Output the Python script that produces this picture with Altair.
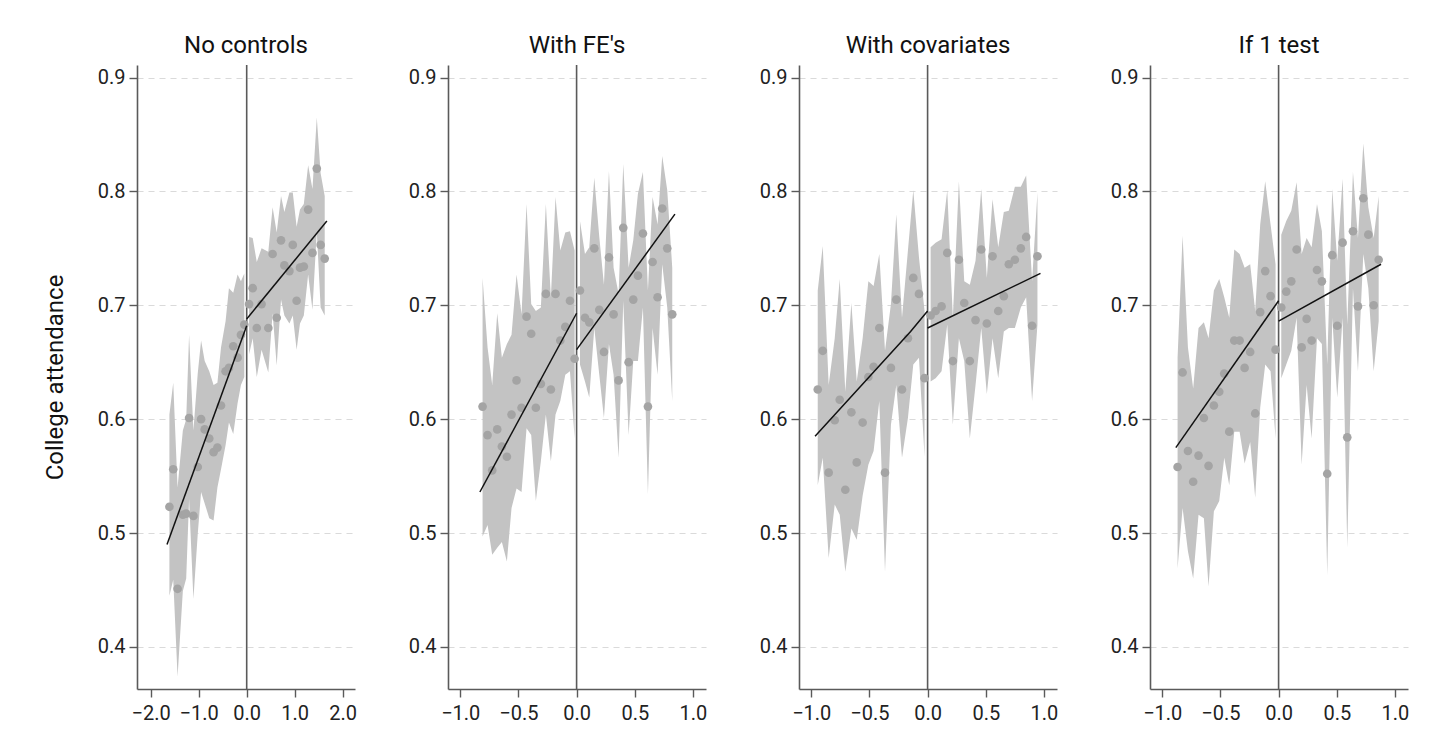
import altair as alt
import pandas as pd

FONT = "Roboto"
panel_titles = ["No controls", "With FE's", "With covariates", "If 1 test"]
y_title = "College attendance"
y_ticks = [0.4, 0.5, 0.6, 0.7, 0.8, 0.9]
x_ticks_wide = [-2.0, -1.0, 0.0, 1.0, 2.0]
x_ticks_narrow = [-1.0, -0.5, 0.0, 0.5, 1.0]

# ---------------- Panel 1: No controls ----------------
p1_lx = [-1.61, -1.53, -1.44, -1.33, -1.26, -1.20, -1.11, -1.02, -0.95, -0.875,
         -0.78, -0.69, -0.61, -0.535, -0.44, -0.37, -0.28, -0.19, -0.12, -0.05]
p1_ly = [0.523, 0.556, 0.451, 0.516, 0.517, 0.601, 0.515, 0.558, 0.600, 0.591,
         0.583, 0.571, 0.575, 0.612, 0.642, 0.645, 0.664, 0.654, 0.674, 0.683]
p1_lhi = [0.604, 0.632, 0.540, 0.590, 0.600, 0.674, 0.590, 0.640, 0.669, 0.651,
          0.642, 0.630, 0.632, 0.663, 0.686, 0.715, 0.711, 0.727, 0.721, 0.728]
p1_llo = [0.445, 0.459, 0.374, 0.449, 0.460, 0.530, 0.442, 0.499, 0.536, 0.526,
          0.513, 0.511, 0.540, 0.556, 0.577, 0.597, 0.587, 0.614, 0.630, 0.637]
p1_rx = [0.05, 0.125, 0.21, 0.31, 0.45, 0.54, 0.625, 0.715, 0.785, 0.89,
         0.96, 1.04, 1.11, 1.19, 1.28, 1.37, 1.46, 1.54, 1.625]
p1_ry = [0.701, 0.715, 0.680, 0.701, 0.680, 0.745, 0.689, 0.757, 0.735, 0.730,
         0.753, 0.704, 0.733, 0.734, 0.784, 0.746, 0.820, 0.753, 0.741]
p1_rhi = [0.760, 0.759, 0.738, 0.750, 0.747, 0.786, 0.764, 0.796, 0.782, 0.799,
          0.799, 0.769, 0.784, 0.789, 0.823, 0.802, 0.865, 0.816, 0.796]
p1_rlo = [0.657, 0.671, 0.637, 0.661, 0.641, 0.693, 0.647, 0.705, 0.691, 0.684,
          0.691, 0.661, 0.684, 0.691, 0.727, 0.696, 0.765, 0.698, 0.691]
p1_fit_lx = [-1.66, 0.0]
p1_fit_ly = [0.490, 0.682]
p1_fit_rx = [0.0, 1.67]
p1_fit_ry = [0.688, 0.774]

# ---------------- Panel 2: With FE's ----------------
p2_lx = [-0.808, -0.765, -0.725, -0.682, -0.642, -0.599, -0.559, -0.516, -0.473, -0.430,
         -0.390, -0.350, -0.307, -0.264, -0.221, -0.181, -0.140, -0.097, -0.057, -0.017]
p2_ly = [0.611, 0.586, 0.555, 0.591, 0.576, 0.567, 0.604, 0.634, 0.610, 0.690,
         0.675, 0.610, 0.631, 0.710, 0.626, 0.710, 0.669, 0.681, 0.704, 0.653]
p2_lhi = [0.724, 0.663, 0.630, 0.693, 0.654, 0.666, 0.674, 0.727, 0.692, 0.789,
          0.701, 0.695, 0.698, 0.789, 0.707, 0.795, 0.748, 0.764, 0.765, 0.748]
p2_llo = [0.497, 0.507, 0.481, 0.487, 0.492, 0.475, 0.522, 0.539, 0.536, 0.592,
          0.586, 0.528, 0.563, 0.604, 0.563, 0.604, 0.616, 0.639, 0.642, 0.583]
p2_rx = [0.029, 0.072, 0.109, 0.152, 0.195, 0.235, 0.278, 0.318, 0.361, 0.401,
         0.447, 0.487, 0.527, 0.570, 0.613, 0.653, 0.696, 0.736, 0.779, 0.822]
p2_ry = [0.713, 0.689, 0.685, 0.750, 0.696, 0.659, 0.742, 0.692, 0.634, 0.768,
         0.650, 0.705, 0.726, 0.763, 0.611, 0.738, 0.707, 0.785, 0.750, 0.692]
p2_rhi = [0.774, 0.745, 0.751, 0.812, 0.760, 0.718, 0.818, 0.733, 0.710, 0.824,
          0.733, 0.757, 0.798, 0.817, 0.713, 0.795, 0.771, 0.831, 0.801, 0.733]
p2_rlo = [0.648, 0.633, 0.619, 0.680, 0.639, 0.601, 0.666, 0.639, 0.566, 0.704,
          0.586, 0.651, 0.651, 0.698, 0.534, 0.680, 0.639, 0.736, 0.698, 0.616]
p2_fit_lx = [-0.831, 0.0]
p2_fit_ly = [0.536, 0.693]
p2_fit_rx = [0.0, 0.845]
p2_fit_ry = [0.661, 0.780]

# ---------------- Panel 3: With covariates ----------------
p3_lx = [-0.944, -0.901, -0.850, -0.798, -0.755, -0.707, -0.655, -0.609, -0.558, -0.509,
         -0.464, -0.415, -0.366, -0.315, -0.269, -0.220, -0.169, -0.123, -0.074, -0.026]
p3_ly = [0.626, 0.660, 0.553, 0.599, 0.617, 0.538, 0.606, 0.562, 0.597, 0.637,
         0.646, 0.680, 0.553, 0.645, 0.705, 0.626, 0.671, 0.724, 0.710, 0.636]
p3_lhi = [0.713, 0.752, 0.630, 0.671, 0.723, 0.624, 0.702, 0.633, 0.671, 0.721,
          0.717, 0.745, 0.660, 0.701, 0.780, 0.689, 0.748, 0.801, 0.742, 0.695]
p3_llo = [0.542, 0.566, 0.478, 0.525, 0.516, 0.466, 0.504, 0.494, 0.533, 0.560,
          0.572, 0.616, 0.466, 0.595, 0.630, 0.566, 0.601, 0.648, 0.654, 0.567]
p3_rx = [0.026, 0.069, 0.120, 0.169, 0.217, 0.269, 0.315, 0.363, 0.412, 0.461,
         0.509, 0.558, 0.607, 0.655, 0.698, 0.750, 0.801, 0.847, 0.898, 0.944]
p3_ry = [0.691, 0.695, 0.699, 0.746, 0.651, 0.740, 0.702, 0.651, 0.687, 0.749,
         0.684, 0.743, 0.695, 0.708, 0.736, 0.740, 0.750, 0.760, 0.682, 0.743]
p3_rhi = [0.751, 0.755, 0.758, 0.801, 0.689, 0.809, 0.721, 0.718, 0.739, 0.802,
          0.724, 0.793, 0.751, 0.782, 0.783, 0.804, 0.804, 0.814, 0.721, 0.799]
p3_rlo = [0.633, 0.636, 0.642, 0.683, 0.595, 0.671, 0.651, 0.583, 0.630, 0.680,
          0.622, 0.671, 0.636, 0.677, 0.680, 0.680, 0.698, 0.707, 0.616, 0.683]
p3_fit_lx = [-0.967, -0.146, 0.0]
p3_fit_ly = [0.585, 0.677, 0.695]
p3_fit_rx = [0.0, 0.970]
p3_fit_ry = [0.680, 0.728]

# ---------------- Panel 4: If 1 test ----------------
p4_lx = [-0.868, -0.825, -0.779, -0.734, -0.688, -0.642, -0.602, -0.556, -0.510, -0.467,
         -0.424, -0.381, -0.335, -0.292, -0.244, -0.201, -0.158, -0.115, -0.069, -0.026]
p4_ly = [0.558, 0.641, 0.572, 0.545, 0.568, 0.601, 0.559, 0.612, 0.624, 0.640,
         0.589, 0.669, 0.669, 0.645, 0.659, 0.605, 0.694, 0.730, 0.708, 0.661]
p4_lhi = [0.654, 0.761, 0.663, 0.627, 0.680, 0.685, 0.671, 0.713, 0.723, 0.707,
          0.689, 0.749, 0.745, 0.733, 0.736, 0.695, 0.771, 0.809, 0.771, 0.736]
p4_llo = [0.469, 0.522, 0.484, 0.460, 0.516, 0.513, 0.453, 0.519, 0.528, 0.566,
          0.542, 0.589, 0.589, 0.561, 0.580, 0.531, 0.610, 0.648, 0.642, 0.583]
p4_rx = [0.023, 0.066, 0.109, 0.155, 0.198, 0.241, 0.284, 0.330, 0.372, 0.418,
         0.461, 0.504, 0.550, 0.590, 0.639, 0.682, 0.728, 0.771, 0.817, 0.860]
p4_ry = [0.698, 0.712, 0.721, 0.749, 0.663, 0.688, 0.669, 0.731, 0.721, 0.552,
         0.744, 0.682, 0.755, 0.584, 0.765, 0.699, 0.794, 0.762, 0.700, 0.740]
p4_rhi = [0.762, 0.774, 0.783, 0.808, 0.745, 0.759, 0.751, 0.789, 0.765, 0.648,
          0.802, 0.739, 0.811, 0.683, 0.817, 0.759, 0.842, 0.786, 0.759, 0.796]
p4_rlo = [0.636, 0.648, 0.660, 0.689, 0.560, 0.630, 0.583, 0.671, 0.666, 0.463,
          0.689, 0.619, 0.689, 0.487, 0.715, 0.642, 0.745, 0.715, 0.642, 0.686]
p4_fit_lx = [-0.883, 0.0]
p4_fit_ly = [0.575, 0.704]
p4_fit_rx = [0.0, 0.880]
p4_fit_ry = [0.686, 0.736]

Y_DOMAIN = [0.363, 0.911]
X_DOMAIN_WIDE = [-2.285, 2.256]
X_DOMAIN_NARROW = [-1.105, 1.112]
HEIGHT = 624


def panel(title, lx, ly, lhi, llo, rx, ry, rhi, rlo, flx, fly, frx, fry,
          xdom, xticks, width, first):
    bins = pd.DataFrame({
        "x": lx + rx, "y": ly + ry, "hi": lhi + rhi, "lo": llo + rlo,
        "side": ["L"] * len(lx) + ["R"] * len(rx),
    })
    fit = pd.DataFrame({
        "x": flx + frx, "y": fly + fry,
        "side": ["L"] * len(flx) + ["R"] * len(frx),
    })
    xs = alt.Scale(domain=xdom, nice=False, zero=False)
    ys = alt.Scale(domain=Y_DOMAIN, nice=False, zero=False)
    xaxis = alt.Axis(values=xticks, format=".1f", title=None, grid=False,
                     labelPadding=6, labelFlush=False)
    if first:
        yaxis = alt.Axis(values=y_ticks, format=".1f", title=y_title, grid=True,
                         gridDash=[6, 5], gridColor="#dadada", gridWidth=1.2,
                         titlePadding=30, minExtent=40, maxExtent=40)
    else:
        yaxis = alt.Axis(values=y_ticks, format=".1f", title=None, grid=True,
                         gridDash=[6, 5], gridColor="#dadada", gridWidth=1.2,
                         minExtent=40, maxExtent=40)

    band = alt.Chart(bins).mark_area(color="#c3c3c3", opacity=1).encode(
        x=alt.X("x:Q", scale=xs, axis=xaxis),
        y=alt.Y("hi:Q", scale=ys, axis=yaxis),
        y2="lo:Q",
        detail="side:N",
    )
    zero_line = alt.Chart(pd.DataFrame({"x": [0.0]})).mark_rule(
        color="#5a5a5a", strokeWidth=1.6).encode(x=alt.X("x:Q", scale=xs))
    dots = alt.Chart(bins).mark_circle(size=75, color="#a4a4a4", opacity=1).encode(
        x=alt.X("x:Q", scale=xs),
        y=alt.Y("y:Q", scale=ys),
    )
    fitline = alt.Chart(fit).mark_line(color="#111111", strokeWidth=1.5).encode(
        x=alt.X("x:Q", scale=xs),
        y=alt.Y("y:Q", scale=ys),
        detail="side:N",
    )
    return alt.layer(band, zero_line, dots, fitline).properties(
        width=width, height=HEIGHT,
        title=alt.TitleParams(title, fontSize=24, font=FONT, fontWeight="normal",
                              color="#111111", anchor="middle", frame="group",
                              offset=6),
    )


c1 = panel(panel_titles[0], p1_lx, p1_ly, p1_lhi, p1_llo, p1_rx, p1_ry, p1_rhi, p1_rlo,
           p1_fit_lx, p1_fit_ly, p1_fit_rx, p1_fit_ry, X_DOMAIN_WIDE, x_ticks_wide, 218, True)
c2 = panel(panel_titles[1], p2_lx, p2_ly, p2_lhi, p2_llo, p2_rx, p2_ry, p2_rhi, p2_rlo,
           p2_fit_lx, p2_fit_ly, p2_fit_rx, p2_fit_ry, X_DOMAIN_NARROW, x_ticks_narrow, 258, False)
c3 = panel(panel_titles[2], p3_lx, p3_ly, p3_lhi, p3_llo, p3_rx, p3_ry, p3_rhi, p3_rlo,
           p3_fit_lx, p3_fit_ly, p3_fit_rx, p3_fit_ry, X_DOMAIN_NARROW, x_ticks_narrow, 258, False)
c4 = panel(panel_titles[3], p4_lx, p4_ly, p4_lhi, p4_llo, p4_rx, p4_ry, p4_rhi, p4_rlo,
           p4_fit_lx, p4_fit_ly, p4_fit_rx, p4_fit_ry, X_DOMAIN_NARROW, x_ticks_narrow, 258, False)

chart = alt.hconcat(c1, c2, c3, c4, spacing=93, bounds="flush").properties(
    padding={"left": 35, "top": 26, "right": 5, "bottom": 5},
    background="white",
).configure_view(strokeWidth=0).configure_axis(
    domainColor="#5a5a5a", domainWidth=1.6, tickColor="#5a5a5a", tickWidth=1.4,
    tickSize=8, labelFont=FONT, labelFontSize=20, labelColor="#222222",
    titleFont=FONT, titleFontSize=24, titleFontWeight="normal", titleColor="#111111",
    labelPadding=4,
)

chart.save("out.html", embed_options={"renderer": "svg", "actions": False})
